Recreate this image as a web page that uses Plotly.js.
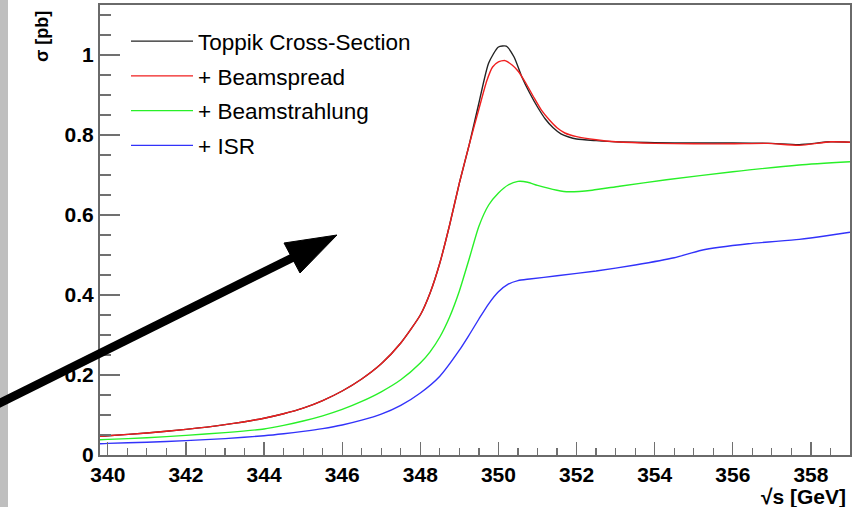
<!DOCTYPE html>
<html>
<head>
<meta charset="utf-8">
<script src="https://cdn.plot.ly/plotly-3.0.1.min.js"></script>
<style>
  html, body { margin: 0; padding: 0; }
  body { width: 867px; height: 507px; background: linear-gradient(to right, #bfbfbf 0, #bfbfbf 8px, #ffffff 8px); }
  #chart { width: 867px; height: 507px; }
</style>
</head>
<body>
<div id="chart"></div>
<script>
// Top-pair threshold scan: cross-section vs. centre-of-mass energy
const seriesNames = ['Toppik Cross-Section', '+ Beamspread', '+ Beamstrahlung', '+ ISR'];

const toppikX = [339.8, 340, 341, 342, 343, 344, 344.5, 345, 345.5, 346, 346.5, 347, 347.5, 348, 348.25, 348.5, 348.75, 349, 349.25, 349.5, 349.75, 350, 350.2, 350.4, 350.6, 350.8, 351, 351.2, 351.4, 351.6, 351.8, 352, 352.5, 353, 354, 355, 356, 357, 357.7, 358.5, 359];
const toppikY = [0.047, 0.048, 0.055, 0.064, 0.076, 0.092, 0.103, 0.117, 0.136, 0.160, 0.190, 0.228, 0.280, 0.350, 0.405, 0.480, 0.575, 0.680, 0.775, 0.880, 0.980, 1.020, 1.022, 0.995, 0.945, 0.905, 0.870, 0.840, 0.818, 0.803, 0.795, 0.790, 0.786, 0.783, 0.781, 0.780, 0.780, 0.779, 0.776, 0.783, 0.782];

const spreadX = [339.8, 340, 341, 342, 343, 344, 344.5, 345, 345.5, 346, 346.5, 347, 347.5, 348, 348.25, 348.5, 348.75, 349, 349.25, 349.5, 349.7, 349.85, 350, 350.17, 350.35, 350.5, 350.7, 350.9, 351.1, 351.3, 351.5, 351.7, 352, 352.5, 353, 354, 355, 356, 356.9, 357.7, 358.5, 359];
const spreadY = [0.047, 0.048, 0.055, 0.064, 0.076, 0.092, 0.103, 0.117, 0.136, 0.160, 0.190, 0.228, 0.280, 0.350, 0.405, 0.480, 0.575, 0.680, 0.775, 0.865, 0.935, 0.970, 0.983, 0.986, 0.975, 0.960, 0.930, 0.895, 0.862, 0.838, 0.818, 0.805, 0.796, 0.788, 0.783, 0.779, 0.778, 0.778, 0.779, 0.774, 0.783, 0.782];

const strahlungX = [339.8, 340, 341, 342, 343, 344, 344.5, 345, 345.5, 346, 346.5, 347, 347.5, 348, 348.25, 348.5, 348.75, 349, 349.25, 349.5, 349.75, 350, 350.25, 350.5, 350.75, 351, 351.5, 351.8, 352.4, 353.1, 354.3, 356, 357.7, 359];
const strahlungY = [0.038, 0.039, 0.043, 0.049, 0.056, 0.065, 0.074, 0.085, 0.098, 0.114, 0.134, 0.158, 0.188, 0.230, 0.258, 0.295, 0.345, 0.410, 0.490, 0.572, 0.625, 0.655, 0.675, 0.684, 0.682, 0.674, 0.662, 0.658, 0.662, 0.672, 0.688, 0.708, 0.725, 0.733];

const isrX = [339.8, 340, 341, 342, 343, 344, 344.5, 345, 345.5, 346, 346.5, 347, 347.5, 348, 348.5, 349, 349.25, 349.5, 349.75, 350, 350.25, 350.5, 350.8, 351.5, 352.5, 353.5, 354.5, 355.2, 356.4, 357.7, 358.4, 359];
const isrY = [0.028, 0.029, 0.032, 0.036, 0.041, 0.048, 0.053, 0.059, 0.066, 0.075, 0.087, 0.102, 0.124, 0.155, 0.197, 0.262, 0.300, 0.340, 0.378, 0.408, 0.427, 0.436, 0.440, 0.448, 0.460, 0.475, 0.493, 0.512, 0.528, 0.539, 0.548, 0.557];

const lineColors = ['rgb(35,35,35)', 'rgb(240,30,30)', 'rgb(40,240,40)', 'rgb(50,50,250)'];

const xs = [toppikX, spreadX, strahlungX, isrX];
const ys = [toppikY, spreadY, strahlungY, isrY];

const traces = seriesNames.map((name, i) => ({
  type: 'scatter',
  mode: 'lines',
  name: name,
  legendgroup: 'g' + i,
  x: xs[i],
  y: ys[i],
  line: { color: lineColors[i], width: 1.4, shape: 'spline', smoothing: 0.6 },
  hoverinfo: 'x+y+name'
}));

const tickFont = { family: 'Liberation Sans, Arial, sans-serif', size: 21, color: '#000', weight: 'bold' };

// helper: pixel position in the page -> paper fraction (plot area 100..850 x 5..455)
const px = v => (v - 100) / 750;
const py = v => (455 - v) / 450;

const layout = {
  width: 867,
  height: 507,
  margin: { l: 100, r: 17, t: 5, b: 52 },
  paper_bgcolor: 'rgba(0,0,0,0)',
  plot_bgcolor: '#ffffff',
  showlegend: true,
  legend: {
    x: px(126), y: py(20), xanchor: 'left', yanchor: 'top',
    bgcolor: 'rgba(0,0,0,0)', borderwidth: 0,
    font: { family: 'Liberation Sans, Arial, sans-serif', size: 22.5, color: '#000' },
    tracegroupgap: 2.5,
    itemwidth: 62
  },
  xaxis: {
    range: [339.8, 359],
    tick0: 340, dtick: 2,
    ticks: 'inside', ticklen: 13, tickwidth: 1.3, tickcolor: '#707070',
    minor: { dtick: 0.5, ticks: 'inside', ticklen: 7, tickwidth: 1.2, tickcolor: '#707070' },
    showline: true, linecolor: '#6a6a6a', linewidth: 2, mirror: true,
    showgrid: false, zeroline: false,
    tickfont: tickFont
  },
  yaxis: {
    range: [0, 1.125],
    tick0: 0, dtick: 0.2,
    ticks: 'inside', ticklen: 20, tickwidth: 1.5, tickcolor: '#707070',
    minor: { dtick: 0.05, ticks: 'inside', ticklen: 11, tickwidth: 1.2, tickcolor: '#707070' },
    showline: true, linecolor: '#6a6a6a', linewidth: 2, mirror: true,
    showgrid: false, zeroline: false,
    tickfont: tickFont
  },
  annotations: [
    {
      text: 'σ [pb]', xref: 'paper', yref: 'paper',
      x: px(42), y: py(37), xanchor: 'center', yanchor: 'middle',
      textangle: -90, showarrow: false,
      font: { family: 'Liberation Sans, Arial, sans-serif', size: 18, color: '#000', weight: 'bold' }
    },
    {
      text: '√s [GeV]', xref: 'paper', yref: 'paper',
      x: px(848), y: py(496), xanchor: 'right', yanchor: 'middle',
      showarrow: false,
      font: { family: 'Liberation Sans, Arial, sans-serif', size: 21, color: '#000', weight: 'bold' }
    }
  ],
  shapes: [
    // pointer arrow shaft
    {
      type: 'line', xref: 'paper', yref: 'paper', layer: 'above',
      x0: px(-4), y0: py(405), x1: px(296), y1: py(256),
      line: { color: '#000', width: 8.5 }
    },
    // pointer arrow head
    {
      type: 'path', xref: 'paper', yref: 'paper', layer: 'above',
      path: 'M' + px(337) + ',' + py(235) + ' L' + px(284) + ',' + py(243) + ' L' + px(300) + ',' + py(273) + ' Z',
      fillcolor: '#000', line: { color: '#000', width: 1 }
    }
  ]
};

Plotly.newPlot('chart', traces, layout, { displayModeBar: false, staticPlot: true });
</script>
</body>
</html>
